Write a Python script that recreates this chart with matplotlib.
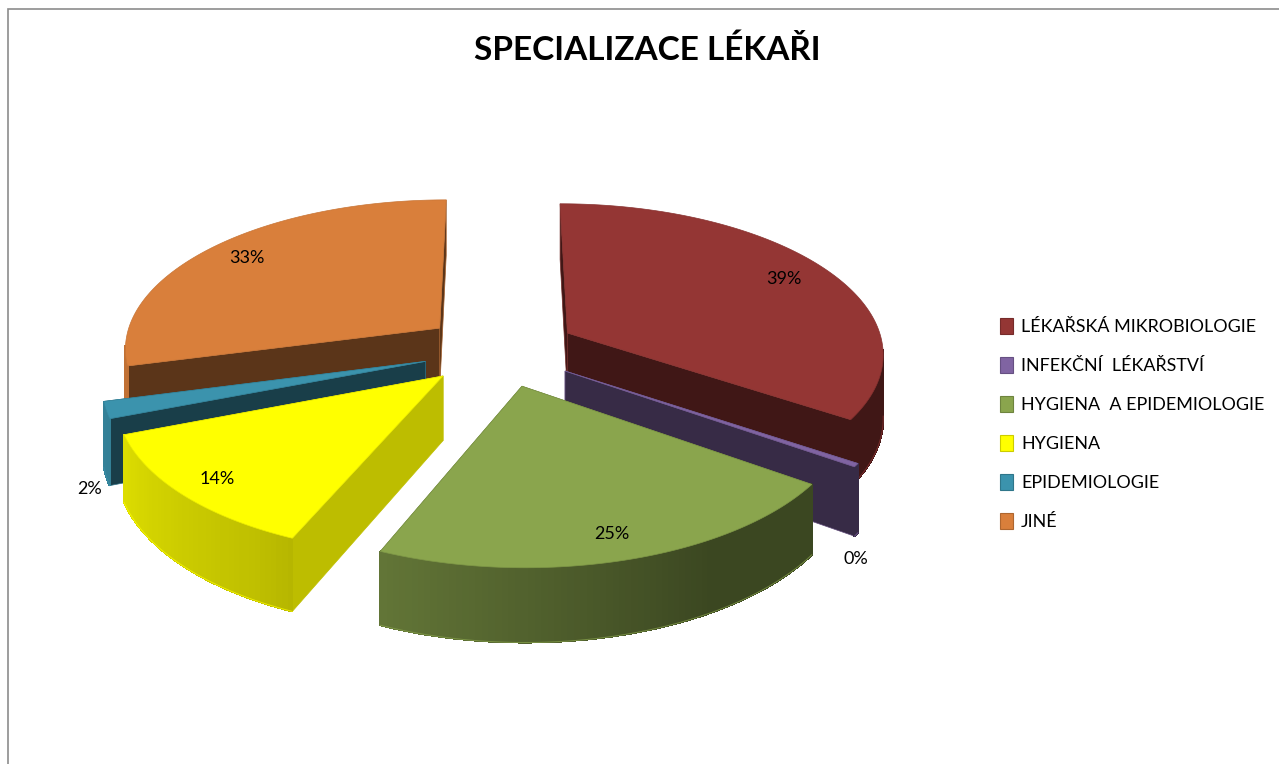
"""3D pie: SPECIALIZACE LÉKAŘI"""
import numpy as np
import matplotlib
matplotlib.use('Agg')
import matplotlib.pyplot as plt
from matplotlib.patches import Patch, Polygon, Rectangle
from matplotlib.colors import to_rgb

categories = ['LÉKAŘSKÁ MIKROBIOLOGIE', 'INFEKČNÍ  LÉKAŘSTVÍ', 'HYGIENA  A EPIDEMIOLOGIE',
              'HYGIENA', 'EPIDEMIOLOGIE', 'JINÉ']
values = [39, 0.4, 24.55, 14.45, 2, 33]
colors = ['#943634', '#8064a2', '#8aa54d', '#ffff00', '#3b93ad', '#d97f3b']
cut_shades = [0.43, 0.43, 0.43, 0.74, 0.42, 0.42]
label_radius = [0.82, 0.98, 0.85, 0.86, 1.03, 0.83]
label_drop = [0.0, 1.35, 0.0, 0.0, 1.15, 0.0]

# projection settings (perspective camera over the pie)
CX, CY = 500, 350
D = 7.9
FX, FY, H = 2553, 1203, 500
EXPLODE = 0.24
RADIUS = 0.98
N_STEPS = 1


def project(x, y, z=0.0):
    s = D + np.asarray(y)
    return CX + FX * np.asarray(x) / s, CY - (FY * np.asarray(y) + H * z) / s


def wall_shade(deg):
    return np.interp(deg, [120, 150, 210, 250, 300], [0.43, 0.43, 0.75, 0.87, 0.95])


def dim(color, k):
    return tuple(c * k for c in to_rgb(color))


def draw_slice(ax, start, end, color, cut_shade, order):
    mid = np.radians((start + end) / 2)
    ax0, ay0 = EXPLODE * np.sin(mid), EXPLODE * np.cos(mid)
    degs = np.linspace(start, end, max(int((end - start) * N_STEPS), 2) + 1)
    rx = ax0 + RADIUS * np.sin(np.radians(degs))
    ry = ay0 + RADIUS * np.cos(np.radians(degs))

    # радиальные срезы: ближний к зрителю рисуем последним
    for i in sorted((0, len(degs) - 1), key=lambda k: -ry[k]):
        px, py = project([ax0, rx[i]], [ay0, ry[i]])
        bx, by = project([ax0, rx[i]], [ay0, ry[i]], -1.0)
        pts = np.column_stack([np.r_[px, bx[::-1]], np.r_[py, by[::-1]]])
        ax.add_patch(Polygon(pts, fc=dim(color, cut_shade), ec=dim(color, 0.75), lw=0.5, zorder=order))

    # боковая стенка, только видимая с камеры часть
    visible = np.cos(np.radians(degs)) < -RADIUS / D
    for i in range(len(degs) - 1):
        if not (visible[i] or visible[i + 1]):
            continue
        px, py = project(rx[i:i + 2], ry[i:i + 2])
        bx, by = project(rx[i:i + 2], ry[i:i + 2], -1.0)
        pts = np.column_stack([np.r_[px, bx[::-1]], np.r_[py, by[::-1]]])
        c = dim(color, wall_shade((degs[i] + degs[i + 1]) / 2))
        ax.add_patch(Polygon(pts, fc=c, ec=c, lw=0.8, antialiased=False, zorder=order + 0.1))
    if visible.any():
        bx, by = project(rx[visible], ry[visible], -1.0)
        ax.plot(bx, by, color=color, lw=0.7, alpha=0.7, zorder=order + 0.1)

    # верхняя грань
    tx, ty = project(np.r_[ax0, rx], np.r_[ay0, ry])
    ax.add_patch(Polygon(np.column_stack([tx, ty]), fc=color, ec=dim(color, 0.92), lw=0.5,
                         zorder=order + 0.2))
    return ax0, ay0, mid


fig = plt.figure(figsize=(12.79, 7.64), dpi=100)
plt.rcParams['font.family'] = ['Lato', 'DejaVu Sans']
ax = fig.add_axes([0, 0, 1, 1])
ax.set_xlim(0, 1279)
ax.set_ylim(764, 0)
ax.axis('off')

# рамка диаграммы
ax.add_patch(Rectangle((8, 9), 1290, 780, fc='white', ec='#8c8c8c', lw=1.2, zorder=0))

fractions = np.array(values) / sum(values)
edges = np.r_[0, np.cumsum(fractions)] * 360
mids = np.radians((edges[:-1] + edges[1:]) / 2)
# задние сектора рисуем первыми
depth_rank = np.argsort(np.argsort(-np.cos(mids)))

for i, v in enumerate(values):
    ax0, ay0, mid = draw_slice(ax, edges[i], edges[i + 1], colors[i], cut_shades[i],
                               2 + depth_rank[i])
    lx, ly = project(ax0 + label_radius[i] * np.sin(mid), ay0 + label_radius[i] * np.cos(mid),
                     -label_drop[i])
    ax.text(lx, ly, f'{v:.0f}%', ha='center', va='center', fontsize=13, color='black', zorder=20)

ax.text(647, 50, 'SPECIALIZACE LÉKAŘI', ha='center', va='center', fontsize=24,
        fontweight='bold', color='black', zorder=20)

handles = [Patch(fc=c, ec=dim(c, 0.8), lw=0.8) for c in colors]
ax.legend(handles, categories, loc='center left', bbox_to_anchor=(984 / 1279, 1 - 424 / 764),
          bbox_transform=fig.transFigure, frameon=False, fontsize=12.9,
          handlelength=0.72, handleheight=1.0, handletextpad=0.45, labelspacing=1.21)

fig.savefig('out.png', dpi=100)
plt.close(fig)
